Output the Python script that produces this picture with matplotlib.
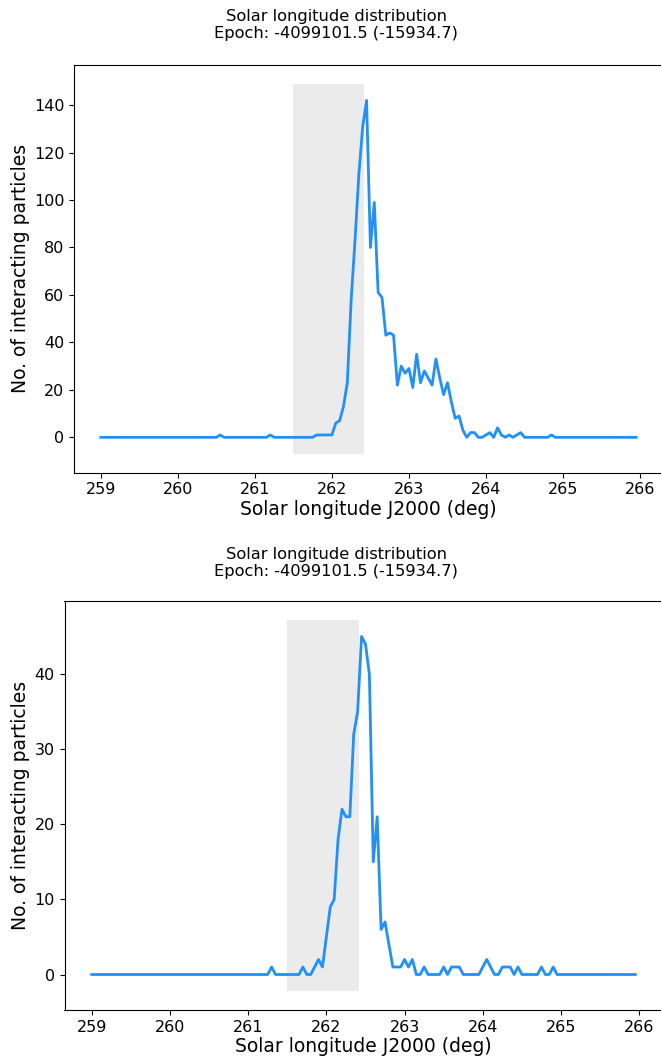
import numpy as np
import matplotlib
matplotlib.use('Agg')
import matplotlib.pyplot as plt

#==================================================================================
#                                   Data
#==================================================================================
lon_start = 259.0
lon_step = 0.05
n_bins = 140
sol_lon = lon_start + lon_step*np.arange(n_bins)

# top panel counts, one per solar longitude bin
counts_top = ([0]*31 + [1] + [0]*12 + [1] + [0]*11 + [1, 1, 1, 1, 1] +
              [6, 7, 13, 23, 58, 83, 111, 131, 142, 80, 99, 61, 59, 43, 44, 43,
               22, 30, 27, 29, 21, 35, 23, 28, 25, 22, 33, 25, 18, 23, 15, 8, 9,
               3, 0, 2, 2, 0, 0, 1, 2, 0, 4, 1, 0, 1, 0, 1, 2] +
              [0]*7 + [1] + [0]*22)

# bottom panel counts
counts_bot = ([0]*46 + [1] + [0]*7 + [1, 0, 0, 1, 2, 1, 5, 9, 10, 18, 22, 21, 21,
              32, 35, 45, 44, 40, 15, 21, 6, 7, 4, 1, 1, 1, 2, 1, 2, 0, 0, 1,
              0, 0, 0, 0, 1, 0, 1, 1, 1, 0, 0, 0, 0, 0, 1, 2, 1, 0, 0, 1, 1, 1,
              0, 1, 0, 0, 0, 0, 0, 1, 0, 0, 1] + [0]*21)

shade_lon = [261.5, 262.42]
title_txt = 'Solar longitude distribution\nEpoch: -4099101.5 (-15934.7)'
xlabel_txt = 'Solar longitude J2000 (deg)'
ylabel_txt = 'No. of interacting particles'

#==================================================================================
#                                   Plot
#==================================================================================
W, H = 661, 1059
fig = plt.figure(figsize=(W/100, H/100), dpi=100)

def draw_panel(rect, counts, title_top):
    ax = fig.add_axes(rect)
    ax.plot(sol_lon, counts, color='#1e90ff', linewidth=2.0, zorder=3)
    lo, hi = ax.get_ylim()
    ax.fill_between(shade_lon, lo, hi, color='#ebebeb', linewidth=0, zorder=1)
    ax.set_xticks([259, 260, 261, 262, 263, 264, 265, 266])
    ax.tick_params(labelsize=11.5)
    ax.set_xlabel(xlabel_txt, fontsize=13.5, labelpad=2)
    ax.set_ylabel(ylabel_txt, fontsize=13.5, labelpad=3)
    fig.text(336/W, 1 - title_top/H, title_txt, ha='center', va='top',
             fontsize=11.7, linespacing=1.2)
    return ax

ax1 = draw_panel([74/W, 1 - 472.7/H, 589/W, 407.7/H], counts_top, 9)
ax2 = draw_panel([64.5/W, 1 - 1010/H, 598/W, 409/H], counts_bot, 547)

fig.savefig('out.png', dpi=100)
